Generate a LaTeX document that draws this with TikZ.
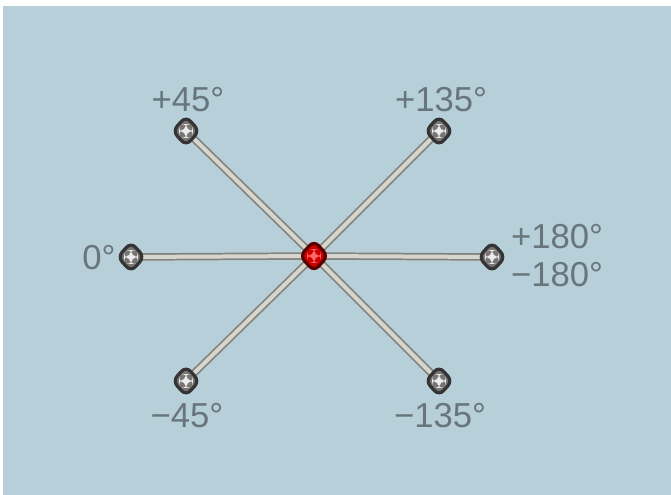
\documentclass[tikz,border=0pt]{standalone}
\usepackage{fontspec}
\setmainfont{Liberation Sans}
\usetikzlibrary{shapes.geometric}
\definecolor{panel}{RGB}{183,207,217}
\definecolor{rodedge}{RGB}{132,132,126}
\definecolor{rodcore}{RGB}{214,214,206}
\definecolor{labelgray}{RGB}{104,118,124}
\definecolor{knobdark}{RGB}{52,52,52}
\definecolor{knobfill}{RGB}{120,118,116}
\begin{document}
\begin{tikzpicture}[x=0.75pt, y=-0.75pt,
    rod/.style={line width=1.3pt, draw=rodedge, double=rodcore, double distance=3pt},
    knob/.style={diamond, draw=knobdark, line width=2.4pt, fill=knobfill, rounded corners=5pt,
        inner sep=0pt, minimum width=21pt, minimum height=23pt,
        path picture={\fill[white!92!black] ([xshift=-1.6pt,yshift=-5.2pt]path picture bounding box.center) rectangle ([xshift=1.6pt,yshift=5.2pt]path picture bounding box.center);
                      \fill[white!92!black] ([xshift=-5.2pt,yshift=-1.6pt]path picture bounding box.center) rectangle ([xshift=5.2pt,yshift=1.6pt]path picture bounding box.center);}},
    hub/.style={knob, draw=red!35!black, fill=red!80!black, minimum width=22pt, minimum height=24pt,
        path picture={\fill[red!60] ([xshift=-1.6pt,yshift=-5.2pt]path picture bounding box.center) rectangle ([xshift=1.6pt,yshift=5.2pt]path picture bounding box.center);
                      \fill[red!60] ([xshift=-5.2pt,yshift=-1.6pt]path picture bounding box.center) rectangle ([xshift=5.2pt,yshift=1.6pt]path picture bounding box.center);}},
    angle/.style={text=labelgray, font=\fontsize{26}{30}\selectfont, inner sep=0pt}]
    % Frame and panel
    \fill[white] (0,0) rectangle (671,495);
    \fill[panel] (3,6) rectangle (671,495);

    % Joint positions
    \coordinate (c) at (314,256);
    \coordinate (p45) at (186,131);
    \coordinate (p135) at (439,131);
    \coordinate (p0) at (131,257);
    \coordinate (p180) at (492,257);
    \coordinate (m45) at (186,381);
    \coordinate (m135) at (439,381);

    % Rods from the hub
    \draw[rod] (c) -- (p45);
    \draw[rod] (c) -- (p135);
    \draw[rod] (c) -- (p0);
    \draw[rod] (c) -- (p180);
    \draw[rod] (c) -- (m45);
    \draw[rod] (c) -- (m135);

    % Knobs at the rod ends
    \node[knob] (k45) at (p45) {};
    \node[knob] (k135) at (p135) {};
    \node[knob] (k0) at (p0) {};
    \node[knob] (k180) at (p180) {};
    \node[knob] (km45) at (m45) {};
    \node[knob] (km135) at (m135) {};
    % Red hub
    \node[hub] (hub) at (c) {};

    % Angle labels
    \node[angle] (l45) at (188,100) {+45°};
    \node[angle] (l135) at (441,100) {+135°};
    \node[angle] (l0) at (99,258) {0°};
    \node[angle] (l180) at (557,237) {+180°};
    \node[angle] (lm180) at (557,275) {−180°};
    \node[angle] (lm45) at (187,416) {−45°};
    \node[angle] (lm135) at (440,416) {−135°};
\end{tikzpicture}
\end{document}
